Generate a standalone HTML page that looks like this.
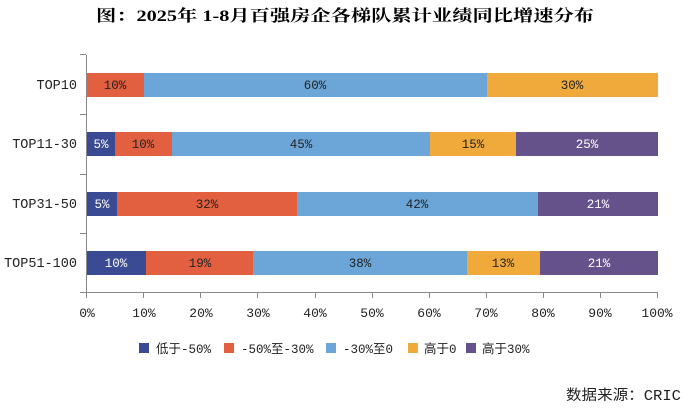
<!DOCTYPE html><html><head><meta charset="utf-8"><style>
body{margin:0;background:#fff;width:691px;height:410px;overflow:hidden;font-family:"Liberation Mono","Noto Sans CJK SC",monospace}
</style></head><body>
<svg width="691" height="410" xmlns="http://www.w3.org/2000/svg" font-family="Liberation Mono, Noto Sans CJK SC, monospace" font-size="12.5">
<text x="96" y="21" textLength="498" lengthAdjust="spacingAndGlyphs" font-family="Liberation Serif, Noto Serif CJK SC, serif" font-weight="bold" font-size="16">图：2025年 1-8月百强房企各梯队累计业绩同比增速分布</text>
<g stroke="#888" stroke-width="1">
<line x1="86.5" y1="55" x2="86.5" y2="292"/>
<line x1="80" y1="292.5" x2="658" y2="292.5"/>
<line x1="80" y1="54.5" x2="86" y2="54.5"/><line x1="80" y1="114.5" x2="86" y2="114.5"/><line x1="80" y1="174.5" x2="86" y2="174.5"/><line x1="80" y1="233.5" x2="86" y2="233.5"/>
<line x1="86.5" y1="292" x2="86.5" y2="298"/><line x1="143.5" y1="292" x2="143.5" y2="298"/><line x1="200.5" y1="292" x2="200.5" y2="298"/><line x1="257.5" y1="292" x2="257.5" y2="298"/><line x1="315.5" y1="292" x2="315.5" y2="298"/><line x1="372.5" y1="292" x2="372.5" y2="298"/><line x1="429.5" y1="292" x2="429.5" y2="298"/><line x1="486.5" y1="292" x2="486.5" y2="298"/><line x1="543.5" y1="292" x2="543.5" y2="298"/><line x1="600.5" y1="292" x2="600.5" y2="298"/><line x1="657.5" y1="292" x2="657.5" y2="298"/>
</g>
<rect x="87" y="73" width="57" height="24" fill="#E2603F"/>
<rect x="144" y="73" width="343" height="24" fill="#6CA6D8"/>
<rect x="487" y="73" width="171" height="24" fill="#F0A93B"/>
<rect x="87" y="132" width="28" height="24" fill="#3B4B93"/>
<rect x="115" y="132" width="57" height="24" fill="#E2603F"/>
<rect x="172" y="132" width="258" height="24" fill="#6CA6D8"/>
<rect x="430" y="132" width="86" height="24" fill="#F0A93B"/>
<rect x="516" y="132" width="142" height="24" fill="#65528A"/>
<rect x="87" y="192" width="30" height="24" fill="#3B4B93"/>
<rect x="117" y="192" width="180" height="24" fill="#E2603F"/>
<rect x="297" y="192" width="241" height="24" fill="#6CA6D8"/>
<rect x="538" y="192" width="120" height="24" fill="#65528A"/>
<rect x="87" y="251" width="59" height="24" fill="#3B4B93"/>
<rect x="146" y="251" width="107" height="24" fill="#E2603F"/>
<rect x="253" y="251" width="214" height="24" fill="#6CA6D8"/>
<rect x="467" y="251" width="73" height="24" fill="#F0A93B"/>
<rect x="540" y="251" width="118" height="24" fill="#65528A"/>
<g text-anchor="middle" fill="#222">
<text x="115" y="89">10%</text><text x="315" y="89">60%</text><text x="572" y="89">30%</text>
<text x="101" y="148" fill="#fff">5%</text><text x="143" y="148">10%</text><text x="301" y="148">45%</text><text x="473" y="148">15%</text><text x="587" y="148" fill="#fff">25%</text>
<text x="102" y="208" fill="#fff">5%</text><text x="207" y="208">32%</text><text x="417" y="208">42%</text><text x="598" y="208" fill="#fff">21%</text>
<text x="116" y="267" fill="#fff">10%</text><text x="200" y="267">19%</text><text x="360" y="267">38%</text><text x="503" y="267">13%</text><text x="599" y="267" fill="#fff">21%</text>
</g>
<g text-anchor="end" fill="#222" font-size="13.5">
<text x="77" y="89">TOP10</text><text x="77" y="148">TOP11-30</text><text x="77" y="208">TOP31-50</text><text x="77" y="267">TOP51-100</text>
</g>
<g text-anchor="middle" fill="#222" font-size="13">
<text x="87" y="317">0%</text><text x="144" y="317">10%</text><text x="201" y="317">20%</text><text x="258" y="317">30%</text><text x="315" y="317">40%</text><text x="372" y="317">50%</text><text x="429" y="317">60%</text><text x="486" y="317">70%</text><text x="543" y="317">80%</text><text x="600" y="317">90%</text><text x="657" y="317">100%</text>
</g>
<g fill="#222">
<rect x="139" y="343" width="10" height="10" fill="#3B4B93"/><text x="156" y="353">低于-50%</text>
<rect x="224" y="343" width="10" height="10" fill="#E2603F"/><text x="241" y="353">-50%至-30%</text>
<rect x="326" y="343" width="10" height="10" fill="#6CA6D8"/><text x="343" y="353">-30%至0</text>
<rect x="408" y="343" width="10" height="10" fill="#F0A93B"/><text x="424" y="353">高于0</text>
<rect x="466" y="343" width="10" height="10" fill="#65528A"/><text x="482" y="353">高于30%</text>
<text x="566" y="400" textLength="115" lengthAdjust="spacingAndGlyphs" font-size="14.5">数据来源：CRIC</text>
</g>
</svg>
</body></html>
